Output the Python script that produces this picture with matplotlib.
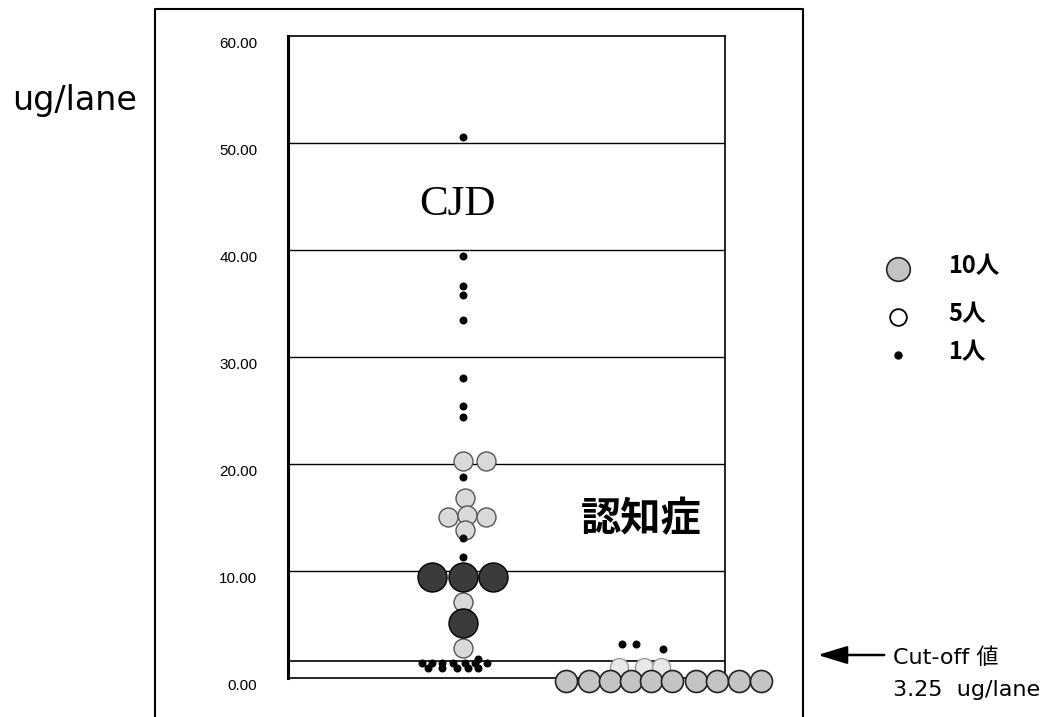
import matplotlib
matplotlib.use("Agg")
import matplotlib.pyplot as plt
from matplotlib.lines import Line2D
from matplotlib.transforms import ScaledTranslation

plt.rcParams['font.family'] = ['Noto Sans CJK JP', 'DejaVu Sans']

# group centres on the x axis
cjd_x = 1.0
dem_x = 2.0

# CJD group: values (ug/lane) and sideways offsets of the swarm
cjd_ones = [50.6, 39.4, 36.6, 35.8, 33.5, 28.0, 25.4, 24.4, 18.8, 13.1, 11.3,
            1.4, 1.4, 1.4, 1.4, 1.4, 1.4, 1.4, 0.9, 0.9, 0.9, 0.9, 0.9, 1.8]
cjd_ones_off = [0, 0, 0, 0, 0, 0, 0, 0, 0, 0, 0,
                -0.205, -0.155, -0.105, -0.05, 0.01, 0.06, 0.12,
                -0.175, -0.105, -0.03, 0.025, 0.075, 0.075]
cjd_fives = [20.3, 20.3, 16.8, 15.0, 15.2, 13.8, 15.0, 7.1, 2.8]
cjd_fives_off = [0.0, 0.115, 0.01, -0.075, 0.02, 0.01, 0.115, 0.0, 0.0]
cjd_tens = [9.4, 9.4, 9.4, 5.1]
cjd_tens_off = [-0.155, 0.0, 0.15, 0.0]

# dementia group
dem_ones = [3.2, 3.2, 2.7]
dem_ones_off = [-0.205, -0.135, 0.0]
dem_fives = [1.0, 1.0, 1.0]
dem_fives_off = [-0.22, -0.095, -0.01]
dem_tens = [-0.3, -0.3, -0.3, -0.3, -0.3, -0.3, -0.3, -0.3, -0.3, -0.3]
dem_tens_off = [-0.485, -0.37, -0.265, -0.16, -0.06, 0.045, 0.165, 0.27, 0.38, 0.49]

cutoff_line_y = 1.6
yticks = [0, 10, 20, 30, 40, 50, 60]
legend_labels = ['10人', '5人', '1人']

fig = plt.figure(figsize=(10.46, 7.17), dpi=100)
ax = fig.add_axes([0.2753, 0.0544, 0.4178, 0.8954])
ax.set_xlim(0.125, 2.31)
ax.set_ylim(0, 60)
ax.set_xticks([])
ax.set_yticks(yticks)
ax.set_yticklabels(['%.2f' % v for v in yticks], family='Liberation Sans', fontsize=11)
ax.tick_params(axis='y', length=0, pad=22)
for lab in ax.get_yticklabels():
    lab.set_transform(lab.get_transform() + ScaledTranslation(0, -0.07, fig.dpi_scale_trans))
for s in ax.spines.values():
    s.set_linewidth(1.2)
ax.spines['left'].set_linewidth(2.2)
for v in yticks[1:-1]:
    ax.axhline(v, color='black', lw=1.0, zorder=1)
ax.axhline(cutoff_line_y, color='black', lw=1.2, zorder=1)

def pts(px):
    return (px * 0.72) ** 2

# CJD swarm
ax.scatter([cjd_x + o for o in cjd_fives_off], cjd_fives, s=pts(19), c='#d9d9d9',
           edgecolors='#555555', linewidths=1.0, zorder=3, clip_on=False)
ax.scatter([cjd_x + o for o in cjd_tens_off], cjd_tens, s=pts(29), c='#3a3a3a',
           edgecolors='black', linewidths=1.0, zorder=4, clip_on=False)
ax.scatter([cjd_x + o for o in cjd_ones_off], cjd_ones, s=pts(8), c='black',
           linewidths=0, zorder=5, clip_on=False)

# dementia swarm
ax.scatter([dem_x + o for o in dem_tens_off], dem_tens, s=pts(22), c='#c4c4c4',
           edgecolors='#222222', linewidths=1.2, zorder=3, clip_on=False)
ax.scatter([dem_x + o for o in dem_fives_off], dem_fives, s=pts(18), c='#e8e8e8',
           edgecolors='#9a9a9a', linewidths=1.0, zorder=2, clip_on=False)
ax.scatter([dem_x + o for o in dem_ones_off], dem_ones, s=pts(8), c='black',
           linewidths=0, zorder=5, clip_on=False)

ax.text(0.975, 44.2, 'CJD', family='Liberation Serif', fontsize=31,
        ha='center', va='center')
ax.text(1.89, 14.8, '認知症', fontsize=29, fontweight='bold', ha='center', va='center')

# outer frame
fig.add_artist(Line2D([0.1482, 0.1482, 0.7677, 0.7677], [0.0, 0.9874, 0.9874, 0.0],
                      color='black', lw=1.5))

fig.text(0.0717, 0.8605, 'ug/lane', family='DejaVu Sans', fontsize=24,
         ha='center', va='center')

# legend
leg_y = [0.6248, 0.5579, 0.5049]
ax.plot([0.8585], [leg_y[0]], transform=fig.transFigure, marker='o', ms=17,
        mfc='#c4c4c4', mec='#222222', mew=1.2, clip_on=False)
ax.plot([0.8585], [leg_y[1]], transform=fig.transFigure, marker='o', ms=12,
        mfc='white', mec='black', mew=1.3, clip_on=False)
ax.plot([0.8585], [leg_y[2]], transform=fig.transFigure, marker='o', ms=5,
        mfc='black', mec='black', clip_on=False)
for y, t in zip(leg_y, legend_labels):
    fig.text(0.9063, y + 0.004, t, fontsize=17, fontweight='bold', va='center', ha='left')

# cut-off note
ax.annotate('', xy=(815 / 1046, 1 - 655 / 717), xytext=(887 / 1046, 1 - 655 / 717),
            xycoords='figure fraction', textcoords='figure fraction',
            arrowprops=dict(arrowstyle='-|>,head_length=1.8,head_width=0.55',
                            color='black', lw=1.8))
note_font = ['DejaVu Sans', 'Noto Sans CJK JP']
fig.text(0.8537, 1 - 658 / 717, 'Cut-off 値', family=note_font, fontsize=16,
         va='center', ha='left')
fig.text(0.8537, 1 - 690 / 717, '3.25  ug/lane', family=note_font, fontsize=16,
         va='center', ha='left')

fig.savefig('out.png', dpi=100)
